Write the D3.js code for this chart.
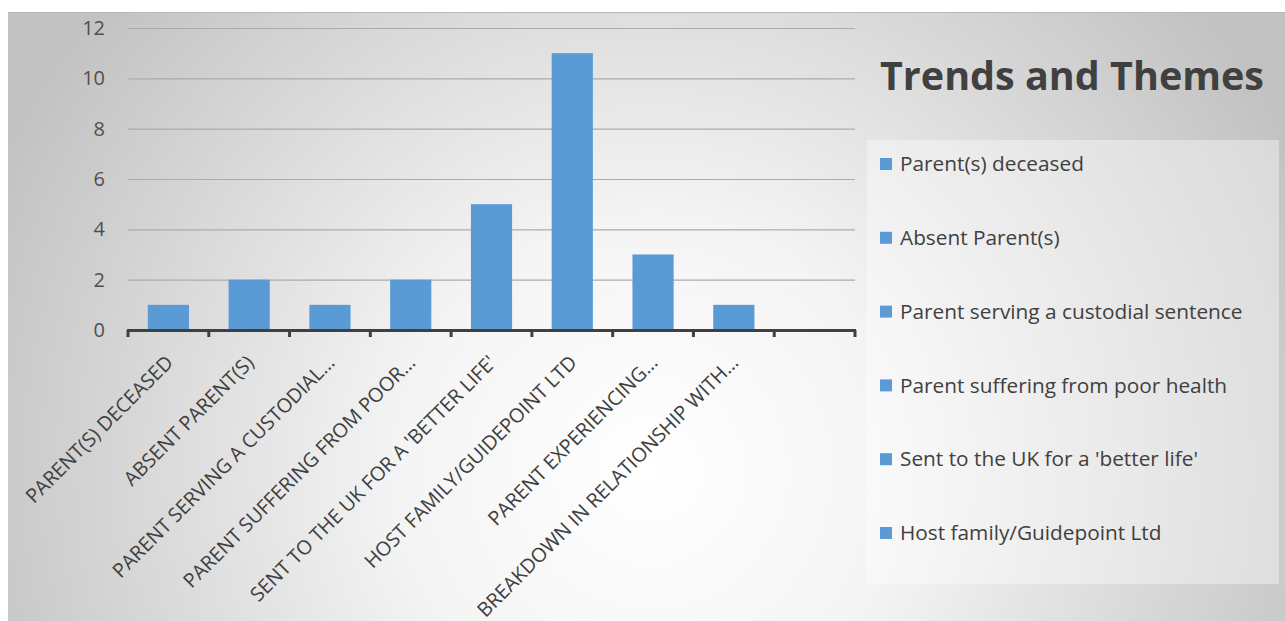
<!DOCTYPE html>
<html>
<head>
<meta charset="utf-8">
<script src="https://cdn.jsdelivr.net/npm/d3@7"></script>
<style>
  html, body { margin: 0; padding: 0; background: #fff; }
  svg { display: block; font-family: "Open Sans", sans-serif; }
</style>
</head>
<body>
<svg width="1285" height="621"></svg>
<script>
// chart data
const categories = [
    "Parent(s) deceased",
    "Absent Parent(s)",
    "Parent serving a custodial sentence",
    "Parent suffering from poor health",
    "Sent to the UK for a 'better life'",
    "Host family/Guidepoint Ltd",
    "Parent experiencing difficulties",
    "Breakdown in relationship with parent(s)",
    ""
];
const xLabels = [
    "PARENT(S) DECEASED",
    "ABSENT PARENT(S)",
    "PARENT SERVING A CUSTODIAL…",
    "PARENT SUFFERING FROM POOR…",
    "SENT TO THE UK FOR A 'BETTER LIFE'",
    "HOST FAMILY/GUIDEPOINT LTD",
    "PARENT EXPERIENCING…",
    "BREAKDOWN IN RELATIONSHIP WITH…",
    ""
];
const values = [1, 2, 1, 2, 5, 11, 3, 1, null];
const yTicks = [0, 2, 4, 6, 8, 10, 12];
const legendNames = categories.slice(0, 6);
const title = "Trends and Themes";

const svg = d3.select("svg");
const defs = svg.append("defs");

const bg = defs.append("radialGradient")
    .attr("id", "bg")
    .attr("gradientUnits", "userSpaceOnUse")
    .attr("cx", 650).attr("cy", 470).attr("r", 720);
bg.append("stop").attr("offset", "0%").attr("stop-color", "#ffffff");
bg.append("stop").attr("offset", "35%").attr("stop-color", "#f4f4f4");
bg.append("stop").attr("offset", "100%").attr("stop-color", "#c2c2c2");

// chart frame
svg.append("rect")
    .attr("x", 8).attr("y", 12)
    .attr("width", 1277).attr("height", 612)
    .attr("fill", "url(#bg)");
svg.append("line")
    .attr("x1", 8).attr("x2", 1285).attr("y1", 12.5).attr("y2", 12.5)
    .attr("stroke", "#b8b8b8");

const plot = { left: 128, right: 855, top: 28, bottom: 330 };

const x = d3.scaleBand()
    .domain(categories.map((d, i) => i))
    .range([plot.left, plot.right])
    .paddingInner(0.49).paddingOuter(0.245);
const xb = d3.scaleBand()
    .domain(categories.map((d, i) => i))
    .range([plot.left, plot.right]);
const y = d3.scaleLinear().domain([0, 12]).range([plot.bottom, plot.top]);

// gridlines
svg.append("g")
    .attr("transform", `translate(${plot.left},0)`)
    .call(d3.axisLeft(y).tickValues(yTicks.slice(1)).tickSize(-(plot.right - plot.left)).tickFormat(""))
    .call(g => g.select(".domain").remove())
    .call(g => g.selectAll("line").attr("stroke", "#ababab").attr("stroke-width", 1.2));

// y axis labels
svg.append("g")
    .attr("transform", `translate(${plot.left},0)`)
    .call(d3.axisLeft(y).tickValues(yTicks).tickSize(0).tickPadding(23))
    .call(g => g.select(".domain").remove())
    .call(g => g.selectAll("text")
        .attr("font-family", "Open Sans, sans-serif")
        .attr("font-size", 20)
        .attr("fill", "#505050"));

// bars
svg.append("g").selectAll("rect")
    .data(values.map((v, i) => ({ v, i })).filter(d => d.v != null))
    .enter().append("rect")
    .attr("x", d => x(d.i))
    .attr("y", d => y(d.v))
    .attr("width", x.bandwidth())
    .attr("height", d => y(0) - y(d.v))
    .attr("fill", "#5b9bd5");

// x axis line and band ticks
const edges = categories.map((d, i) => xb(i)).concat([plot.right]);
svg.append("line")
    .attr("x1", plot.left - 1).attr("x2", plot.right + 1)
    .attr("y1", plot.bottom + 0.5).attr("y2", plot.bottom + 0.5)
    .attr("stroke", "#404040").attr("stroke-width", 3);
svg.append("g").selectAll("line")
    .data(edges)
    .enter().append("line")
    .attr("x1", d => d).attr("x2", d => d)
    .attr("y1", plot.bottom).attr("y2", plot.bottom + 7)
    .attr("stroke", "#404040").attr("stroke-width", 3);

// rotated category labels
svg.append("g").selectAll("text")
    .data(xLabels)
    .enter().append("text")
    .attr("transform", (d, i) => `translate(${xb(i) + xb.bandwidth() / 2 + 1},359) rotate(-45)`)
    .attr("text-anchor", "end")
    .attr("dy", "0.35em")
    .attr("font-size", 19.8)
    .attr("fill", "#404040")
    .text(d => d);

// title
svg.append("text")
    .attr("x", 880).attr("y", 90)
    .attr("font-size", 39.5)
    .attr("font-weight", "bold")
    .attr("fill", "#404040")
    .text(title);

// legend
svg.append("rect")
    .attr("x", 867).attr("y", 140)
    .attr("width", 412).attr("height", 444)
    .attr("fill", "#ffffff").attr("fill-opacity", 0.38);

const ly = d3.scalePoint()
    .domain(legendNames)
    .range([164, 533]);

const items = svg.append("g").selectAll("g")
    .data(legendNames)
    .enter().append("g")
    .attr("transform", d => `translate(880,${ly(d)})`);
items.append("rect")
    .attr("x", 0).attr("y", -6)
    .attr("width", 12).attr("height", 12)
    .attr("fill", "#5b9bd5");
items.append("text")
    .attr("x", 20).attr("dy", "0.35em")
    .attr("font-size", 20.8)
    .attr("fill", "#404040")
    .text(d => d);
</script>
</body>
</html>
